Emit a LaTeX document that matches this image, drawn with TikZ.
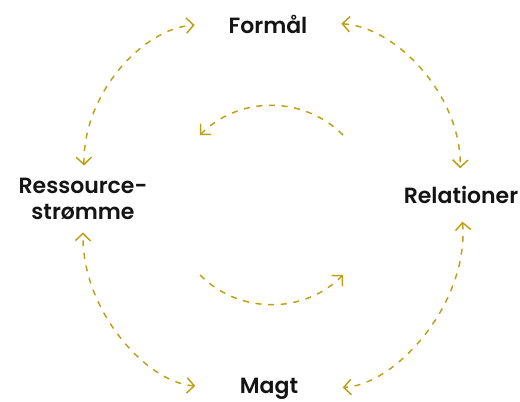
\documentclass[tikz,border=0pt]{standalone}
\usepackage{fontspec}
\setmainfont{Poppins}[BoldFont={Poppins SemiBold}]
\usepackage{tikz}
\usetikzlibrary{arrows.meta}
\definecolor{flowGold}{RGB}{190,160,20}
\definecolor{labelBlack}{RGB}{20,20,20}

\begin{document}
\begin{tikzpicture}[x=0.75pt, y=0.75pt, text=labelBlack]
		\useasboundingbox (0,0) rectangle (520,-402);

		% Labels
		\begin{scope}[every node/.style={font=\bfseries\fontsize{16.5}{19.5}\selectfont, align=center}]
			\node (formal) at (268,-24) {Formål};
			\node (ress) at (83,-199) {Ressource-\\strømme};
			\node (rel) at (461,-195) {Relationer};
			\node (magt) at (269,-389) {Magt};
		\end{scope}

		% Inner cycle
		\coordinate (topStart) at (343,-135);
		\coordinate (topEnd) at (200,-135);
		\coordinate (botStart) at (200,-275);
		\coordinate (botEnd) at (343,-275);

		% Arrows
		\begin{scope}[every edge/.style={draw=flowGold, line width=1.1pt, dash pattern=on 4.5pt off 5pt},
			>={Straight Barb[length=5.5pt, width=11.5pt]}]
			\path [<->] (ress) edge [bend left=44, shorten <=6pt, shorten >=22pt] (formal);
			\path [<->] (formal) edge [bend left=44, shorten <=22pt, shorten >=10pt] (rel);
			\path [<->] (rel) edge [bend left=46, shorten <=10pt, shorten >=30pt] (magt);
			\path [<->] (magt) edge [bend left=44, shorten <=30pt, shorten >=6pt] (ress);
			\path [->] (topStart) edge [bend right=45] (topEnd);
			\path [->] (botStart) edge [bend right=45] (botEnd);
		\end{scope}
	\end{tikzpicture}
\end{document}
